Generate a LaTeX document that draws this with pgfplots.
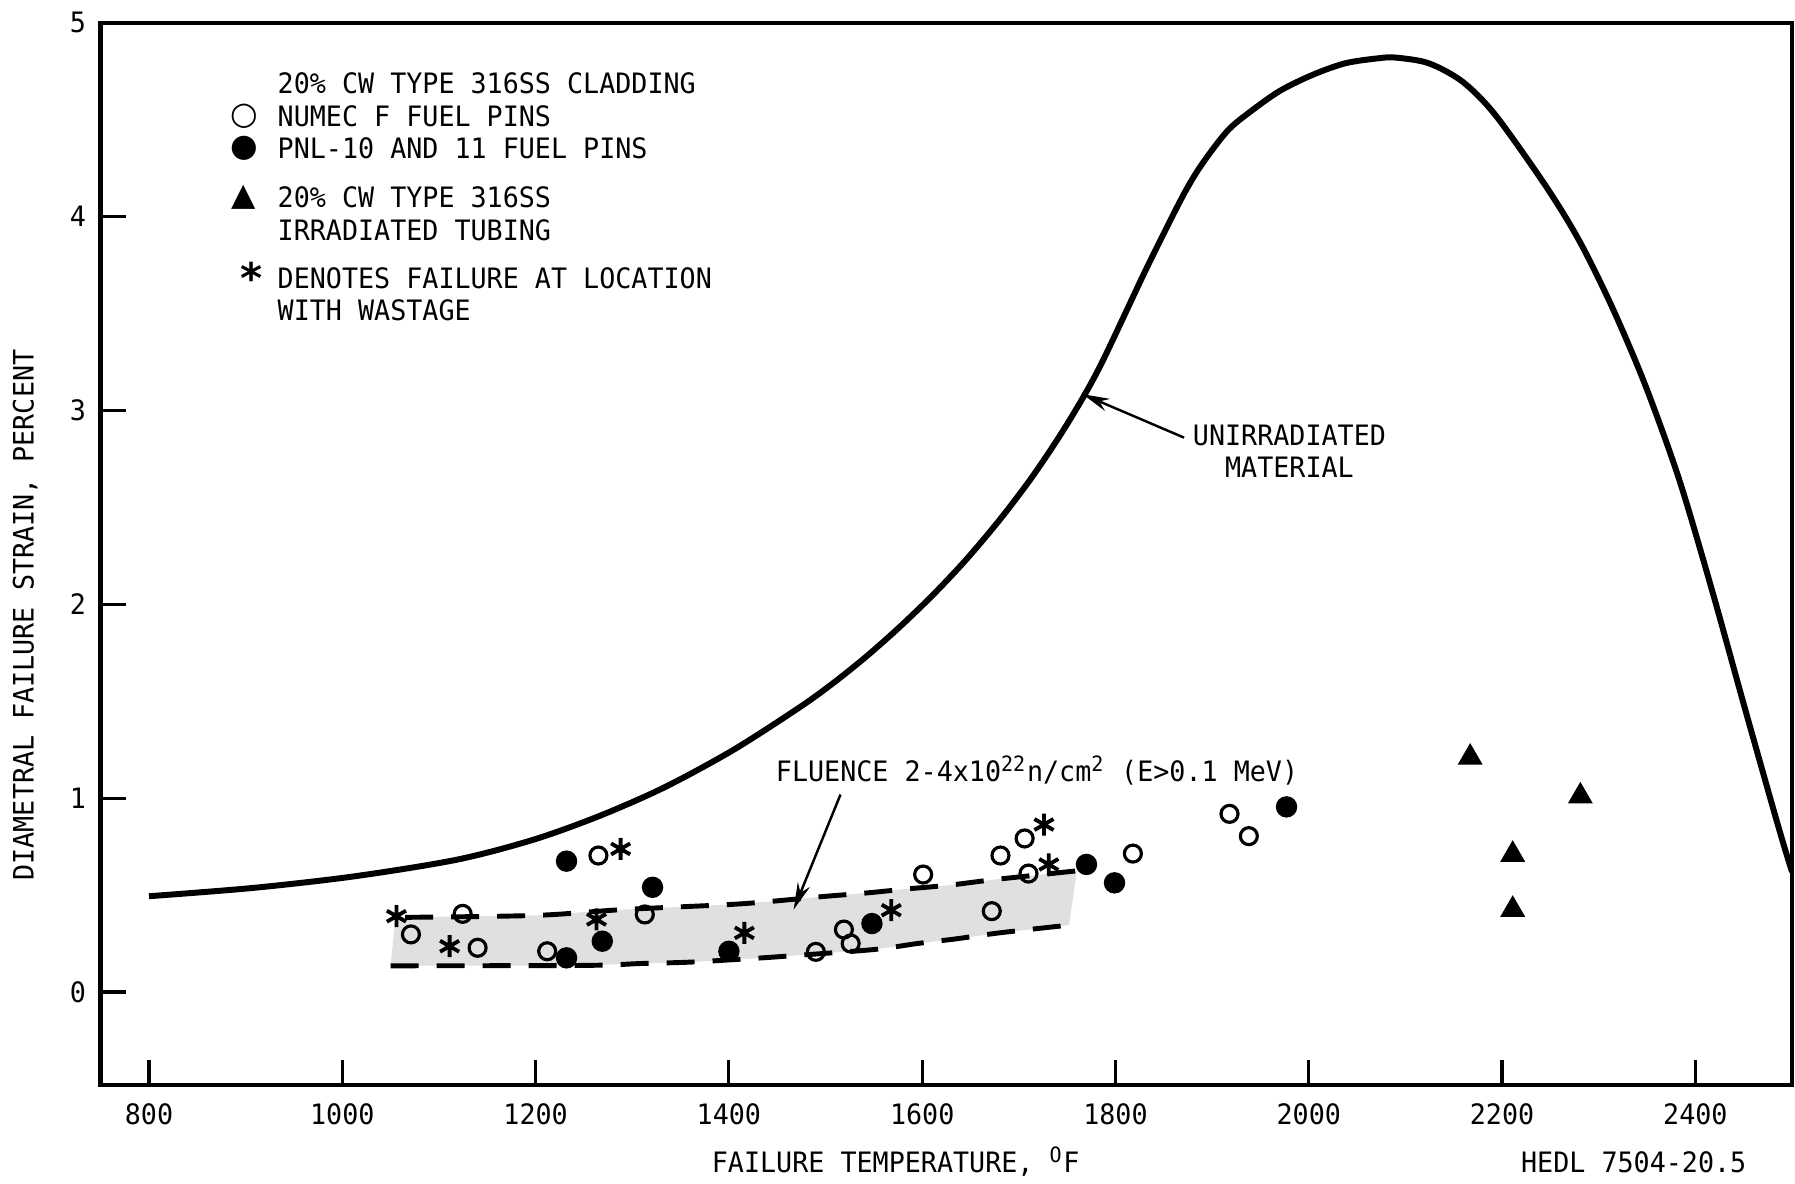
\documentclass[border=0pt]{standalone}
\usepackage{fontspec}
\setmainfont{DejaVu Sans Mono}[FakeStretch=0.95]
\newfontfamily\symf{DejaVu Sans}
\usepackage{pgfplots}
\pgfplotsset{compat=1.18}
\usetikzlibrary{arrows.meta}

\begin{document}
\begin{tikzpicture}[x=1mm,y=1mm]
\useasboundingbox (-10.07,-9.8) rectangle (169.43,108.5);
\begin{axis}[
  at={(0,0)}, anchor=south west,
  scale only axis, width=169.13mm, height=106.21mm,
  xmin=750, xmax=2500, ymin=-0.48, ymax=5,
  xtick={800,1000,...,2400}, ytick={0,1,...,5},
  tick pos=left, tick align=inside,
  major tick length=2.5mm,
  major tick style={line width=0.9pt, black},
  axis line style={line width=1.3pt},
  tick label style={font=\fontsize{8}{9}\selectfont},
  xticklabel style={anchor=center, yshift=-2.9mm},
  yticklabel style={anchor=center, xshift=-2.27mm},
  /pgf/number format/assume math mode=true,
  /pgf/number format/set thousands separator={},
  font=\fontsize{8}{9.1}\selectfont,
]
% shaded band
\addplot[draw=none, fill=black!12] coordinates {
 (1055,0.385) (1200,0.395) (1290,0.425) (1400,0.451) (1445,0.468) (1494,0.491)
 (1545,0.512) (1585,0.532) (1628,0.551) (1675,0.580) (1760,0.625)
 (1752,0.345) (1680,0.305) (1635,0.274) (1595,0.250) (1550,0.219) (1460,0.185)
 (1425,0.173) (1360,0.154) (1310,0.147) (1250,0.137) (1050,0.135)
};
% dashed bounds
\addplot[line width=1.4pt, dash pattern=on 2.8mm off 1.8mm, smooth] coordinates {
 (1065,0.385) (1200,0.395) (1290,0.425) (1400,0.451) (1445,0.468) (1494,0.491)
 (1545,0.512) (1585,0.532) (1628,0.551) (1675,0.580) (1760,0.625)
};
\addplot[line width=1.4pt, dash pattern=on 2.8mm off 1.8mm, smooth] coordinates {
 (1050,0.135) (1250,0.137) (1310,0.147) (1360,0.154) (1425,0.173) (1460,0.185)
 (1550,0.219) (1595,0.250) (1635,0.274) (1680,0.305) (1752,0.345)
};
% unirradiated curve
\addplot[line width=1.7pt, smooth] coordinates {
 (800,0.494) (908,0.537) (1013,0.597) (1119,0.683) (1198,0.786) (1266,0.908)
 (1333,1.055) (1404,1.247) (1473,1.468) (1508,1.594) (1542,1.730) (1576,1.880)
 (1611,2.048) (1645,2.228) (1680,2.435) (1714,2.659) (1749,2.922) (1783,3.218)
 (1831,3.722) (1866,4.072) (1883,4.222) (1900,4.344) (1917,4.449) (1935,4.525)
 (1969,4.646) (2004,4.732) (2038,4.792) (2073,4.818) (2090,4.821) (2124,4.792)
 (2159,4.697) (2193,4.525) (2245,4.16) (2280,3.875) (2314,3.532) (2348,3.133)
 (2383,2.648) (2417,2.077) (2452,1.45) (2486,0.851) (2500,0.62)
};
% NUMEC F fuel pins (open circles)
\addplot[only marks, mark=o, mark size=0.85mm, mark options={line width=0.9pt, black}] coordinates {
 (1265,0.704) (1124.5,0.403) (1071,0.297) (1140,0.228) (1212,0.210) (1313,0.400)
 (1490,0.207) (1519,0.322) (1526,0.250) (1601,0.606) (1672,0.417) (1681,0.704)
 (1706,0.792) (1710,0.611) (1818,0.714) (1918,0.919) (1938,0.804)
};
% PNL-10 and 11 fuel pins (filled circles)
\addplot[only marks, mark=*, mark size=1.0mm, mark options={black, fill=black}] coordinates {
 (1232,0.675) (1321,0.540) (1232,0.176) (1269,0.262) (1400,0.210) (1548,0.353)
 (1770,0.658) (1799,0.563) (1977,0.955)
};
% wastage (asterisks)
\addplot[only marks, mark=asterisk, mark size=1.1mm, mark options={line width=1.1pt, black}] coordinates {
 (1288,0.738) (1056,0.391) (1111,0.236) (1263,0.374) (1416,0.305) (1568,0.422)
 (1726,0.864) (1731,0.658)
};
% irradiated tubing (triangles)
\addplot[only marks, mark=triangle*, mark size=1.3mm, mark options={black, fill=black}] coordinates {
 (2167,1.21) (2281,1.01) (2211,0.709) (2211,0.425)
};
% annotations
\node[align=center] at (axis cs:1980,2.79) {UNIRRADIATED\\MATERIAL};
\draw[line width=0.7pt, -{Stealth[length=2.7mm,width=1.3mm]}] (axis cs:1871,2.86) -- (axis cs:1766,3.084);
\node[anchor=base west, inner sep=0pt] at (axis cs:1448,1.084) {FLUENCE 2-4x10\textsuperscript{22}n/cm\textsuperscript{2} (E>0.1 MeV)};
\draw[line width=0.7pt, -{Stealth[length=2.7mm,width=1.3mm]}] (axis cs:1515.5,1.019) -- (axis cs:1467,0.425);
\end{axis}
% legend block
\begin{scope}[every node/.style={font=\fontsize{8}{9.1}\selectfont, inner sep=0pt}]
\node[anchor=base west] at (17.63,99.17) {20\% CW TYPE 316SS CLADDING};
\node at (14.33,96.85) {\symf\fontsize{9}{10}\selectfont ○};
\node[anchor=base west] at (17.63,95.82) {NUMEC F FUEL PINS};
\node at (14.33,93.65) {\symf\fontsize{9}{10}\selectfont ●};
\node[anchor=base west] at (17.63,92.62) {PNL-10 AND 11 FUEL PINS};
\node at (14.33,88.8) {\symf\fontsize{9}{10}\selectfont ▲};
\node[anchor=base west] at (17.63,87.77) {20\% CW TYPE 316SS};
\node[anchor=base west] at (17.63,84.47) {IRRADIATED TUBING};
\node at (15.1,80.7) {\symf\bfseries\fontsize{12}{13}\selectfont *};
\node[anchor=base west] at (17.63,79.67) {DENOTES FAILURE AT LOCATION};
\node[anchor=base west] at (17.63,76.47) {WITH WASTAGE};
% axis labels
\node[anchor=base] at (79.5,-8.7) {FAILURE TEMPERATURE, \textsuperscript{O}F};
\node[anchor=base] at (153.3,-8.7) {HEDL 7504-20.5};
\node[rotate=90] at (-7.55,47.0) {DIAMETRAL FAILURE STRAIN, PERCENT};
\end{scope}
\end{tikzpicture}
\end{document}
